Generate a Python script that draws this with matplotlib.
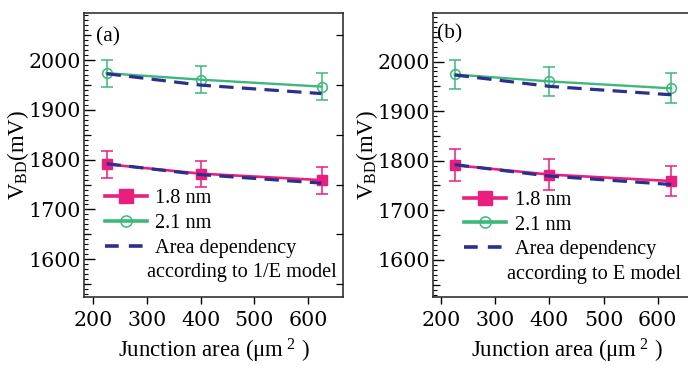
import matplotlib
matplotlib.use("Agg")
import matplotlib.pyplot as plt
from matplotlib.ticker import MultipleLocator, FixedLocator, NullFormatter
from matplotlib.lines import Line2D

plt.rcParams['font.family'] = ['Liberation Serif', 'DejaVu Serif']
plt.rcParams['mathtext.fontset'] = 'custom'
plt.rcParams['mathtext.rm'] = 'Liberation Serif'
plt.rcParams['mathtext.it'] = 'Liberation Serif:italic'

area = [225, 400, 625]

# panel (a)
a_18 = [1791, 1772, 1759]
a_18_err = [27, 26, 27]
a_21 = [1974, 1961, 1947]
a_21_err = [27, 27, 27]
a_model_18 = [1792, 1770, 1753]
a_model_21 = [1973, 1950, 1933]

# panel (b)
b_18 = [1791, 1772, 1759]
b_18_err = [32, 32, 31]
b_21 = [1974, 1960, 1946]
b_21_err = [30, 30, 30]
b_model_18 = [1792, 1769, 1752]
b_model_21 = [1973, 1950, 1933]

xticks = [200, 300, 400, 500, 600]
yticks = [1600, 1700, 1800, 1900, 2000]

PINK = '#EA1E7E'
GREEN = '#3DB87A'
NAVY = '#2D2F8E'
TICKFONT = dict(family='DejaVu Serif', size=14.8)
FS = 14.6

fig = plt.figure(figsize=(6.88, 3.70), dpi=100)

panels = [
    dict(rect=[84/688, 73/370, 259/688, 284/370], xlim=(183, 665), ylim=(1524, 2095),
         d18=a_18, e18=a_18_err, d21=a_21, e21=a_21_err, m18=a_model_18, m21=a_model_21,
         tag='(a)', tagpos=(0.045, 0.95), leg=(0.08, 0.38),
         second='according to 1/E model', secpos=(0.245, 0.086)),
    dict(rect=[433/688, 73/370, 268/688, 284/370], xlim=(185, 680), ylim=(1525, 2098),
         d18=b_18, e18=b_18_err, d21=b_21, e21=b_21_err, m18=b_model_18, m21=b_model_21,
         tag='(b)', tagpos=(0.015, 0.96), leg=(0.115, 0.375),
         second='according to E model', secpos=(0.275, 0.079)),
]

for p in panels:
    ax = fig.add_axes(p['rect'])
    ax.set_xlim(*p['xlim'])
    ax.set_ylim(*p['ylim'])

    ax.plot(area, p['m21'], color=NAVY, lw=2.3, dashes=(4.5, 2.6), zorder=3)
    ax.plot(area, p['m18'], color=NAVY, lw=2.3, dashes=(4.5, 2.6), zorder=3)
    ax.errorbar(area, p['d21'], yerr=p['e21'], color=GREEN, lw=1.7, marker='o',
                mfc='none', mec=GREEN, mew=1.1, ms=7, capsize=4.3, elinewidth=1.1,
                capthick=1.1, zorder=2)
    ax.errorbar(area, p['d18'], yerr=p['e18'], color=PINK, lw=1.9, marker='s',
                mfc=PINK, mec=PINK, ms=7, capsize=4.3, elinewidth=1.1,
                capthick=1.1, zorder=2)

    ax.xaxis.set_major_locator(FixedLocator(xticks))
    ax.yaxis.set_major_locator(FixedLocator(yticks))
    ax.yaxis.set_minor_locator(MultipleLocator(10))
    ax.tick_params(axis='x', which='major', direction='out', length=5, width=1,
                   pad=5, top=False)
    ax.tick_params(axis='y', which='major', direction='in', length=8, width=1,
                   left=True, right=True, pad=2.5)
    ax.tick_params(axis='y', which='minor', direction='in', length=3.2, width=0.8,
                   left=True, right=True)
    ax.tick_params(axis='x', which='minor', bottom=False, top=False)
    for lab in ax.get_xticklabels() + ax.get_yticklabels():
        lab.set_fontfamily(TICKFONT['family'])
        lab.set_fontsize(TICKFONT['size'])
    for s in ax.spines.values():
        s.set_linewidth(1.1)
        s.set_color('#222222')

    # medium ticks at the half-hundreds
    ax2 = ax.twinx()
    ax2.set_ylim(*p['ylim'])
    ax2.yaxis.set_major_locator(FixedLocator([1550, 1650, 1750, 1850, 1950, 2050]))
    ax2.yaxis.set_major_formatter(NullFormatter())
    ax2.tick_params(axis='y', direction='in', length=5, width=0.9, left=True,
                    right=True, labelleft=False, labelright=False)
    ax2.spines[:].set_visible(False)

    ax.set_ylabel(r'V$_{\mathrm{BD}}$(mV)', fontsize=16.5, labelpad=-2)
    ax.set_xlabel(r'Junction area (μm$^{\ 2}$ )', fontsize=16.5, labelpad=5)
    ax.text(*p['tagpos'], p['tag'], transform=ax.transAxes, fontsize=15.5,
            ha='left', va='top')

    handles = [
        Line2D([], [], color=PINK, lw=2.6, marker='s', ms=10, mfc=PINK, mec=PINK),
        Line2D([], [], color=GREEN, lw=2.6, marker='o', ms=8, mfc='none', mec=GREEN, mew=1.1),
        Line2D([], [], color=NAVY, lw=2.6, dashes=(3.8, 2.8)),
    ]
    labels = ['1.8 nm', '2.1 nm', 'Area dependency']
    ax.legend(handles, labels, loc='upper left', bbox_to_anchor=p['leg'],
              frameon=False, fontsize=FS, handlelength=2.1, handletextpad=0.4,
              labelspacing=0.28, borderpad=0, borderaxespad=0)
    ax.text(*p['secpos'], p['second'], transform=ax.transAxes, fontsize=FS,
            ha='left', va='center')

fig.savefig('out.png', dpi=100)
